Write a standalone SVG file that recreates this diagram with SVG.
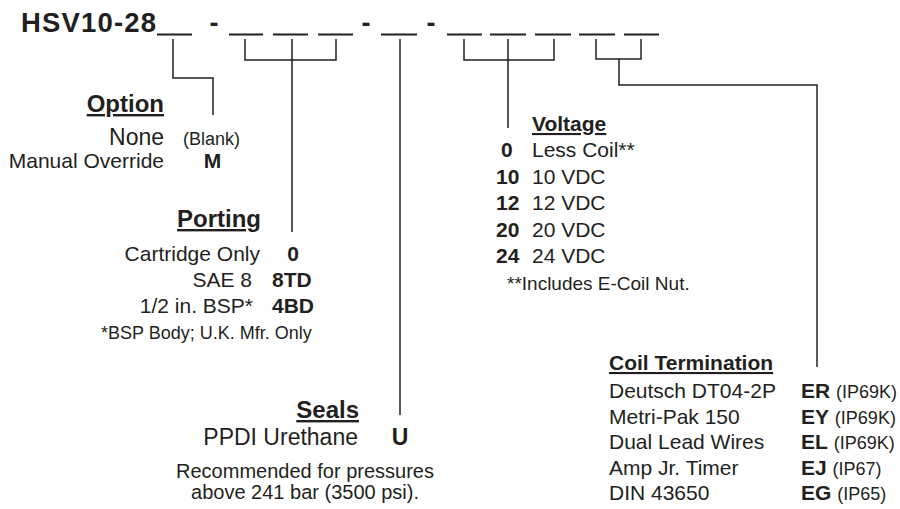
<svg xmlns="http://www.w3.org/2000/svg" width="900" height="509" viewBox="0 0 900 509">
<style>
text{font-family:"Liberation Sans",Arial,sans-serif;fill:#231f20}
.b{font-weight:bold}
.h{font-weight:bold;text-decoration:underline}
.r21{font-size:21px}
.e{text-anchor:end}
.m{text-anchor:middle}
.slot{stroke:#231f20;stroke-width:1.8;fill:none}
.con path{stroke:#231f20;stroke-width:1.5;fill:none}
</style>
<rect width="900" height="509" fill="#fff"/>
<g id="header">
<text x="21" y="32" class="b" font-size="27.5" textLength="135" lengthAdjust="spacing">HSV10-28</text>
<text x="214" y="32" class="b m" font-size="27">-</text>
<text x="366" y="32" class="b m" font-size="27">-</text>
<text x="431" y="32" class="b m" font-size="27">-</text>
<path class="slot" d="M157,34.5H192M229,34.5H263M273,34.5H308M318,34.5H353M381,34.5H417M447,34.5H482M490,34.5H526M535,34.5H571M579,34.5H615M624,34.5H659"/>
</g>
<g id="connectors" class="con">
<path d="M173,39V78H213V115"/>
<path d="M245,39V60H336V39M292,39V232"/>
<path d="M400,39V415"/>
<path d="M464,39V60H554V39M508,39V128"/>
<path d="M596,39V59H641V39M619,59V85H817V367"/>
</g>
<g id="option">
<text x="164" y="112" class="h e" font-size="24">Option</text>
<text x="164" y="145" class="e" font-size="23">None</text>
<text x="183" y="145" font-size="18">(Blank)</text>
<text x="164" y="168" class="e r21">Manual Override</text>
<text x="212.5" y="168" class="b m r21">M</text>
</g>
<g id="porting">
<text x="261" y="227" class="h e" font-size="24">Porting</text>
<text x="260" y="261" class="e r21">Cartridge Only</text>
<text x="293" y="261" class="b m r21">0</text>
<text x="252" y="287" class="e r21">SAE 8</text>
<text x="272" y="287" class="b r21">8TD</text>
<text x="253" y="313" class="e r21">1/2 in. BSP*</text>
<text x="272" y="313" class="b r21">4BD</text>
<text x="101" y="339" font-size="18">*BSP Body; U.K. Mfr. Only</text>
</g>
<g id="seals">
<text x="359" y="418" class="h e" font-size="24">Seals</text>
<text x="358" y="445" class="e" font-size="23">PPDI Urethane</text>
<text x="400" y="445" class="b m" font-size="23">U</text>
<text x="305" y="478" class="m" font-size="20">Recommended for pressures</text>
<text x="305" y="499" class="m" font-size="20">above 241 bar (3500 psi).</text>
</g>
<g id="voltage">
<text x="532" y="131" class="h r21">Voltage</text>
<text x="501" y="157" class="b r21">0</text>
<text x="532" y="157" class="r21">Less Coil**</text>
<text x="496" y="184" class="b r21">10</text>
<text x="532" y="184" class="r21">10 VDC</text>
<text x="496" y="210" class="b r21">12</text>
<text x="532" y="210" class="r21">12 VDC</text>
<text x="496" y="237" class="b r21">20</text>
<text x="532" y="237" class="r21">20 VDC</text>
<text x="496" y="263" class="b r21">24</text>
<text x="532" y="263" class="r21">24 VDC</text>
<text x="507" y="290" font-size="19">**Includes E-Coil Nut.</text>
</g>
<g id="coil">
<text x="609" y="370" class="h r21">Coil Termination</text>
<text x="609" y="398" class="r21">Deutsch DT04-2P</text>
<text x="609" y="424" class="r21">Metri-Pak 150</text>
<text x="609" y="449" class="r21">Dual Lead Wires</text>
<text x="609" y="475" class="r21">Amp Jr. Timer</text>
<text x="609" y="500" class="r21">DIN 43650</text>
<text x="801" y="398" class="r21"><tspan class="b">ER</tspan> <tspan font-size="18">(IP69K)</tspan></text>
<text x="801" y="424" class="r21"><tspan class="b">EY</tspan> <tspan font-size="18">(IP69K)</tspan></text>
<text x="801" y="449" class="r21"><tspan class="b">EL</tspan> <tspan font-size="18">(IP69K)</tspan></text>
<text x="801" y="475" class="r21"><tspan class="b">EJ</tspan> <tspan font-size="18">(IP67)</tspan></text>
<text x="801" y="500" class="r21"><tspan class="b">EG</tspan> <tspan font-size="18">(IP65)</tspan></text>
</g>
</svg>
